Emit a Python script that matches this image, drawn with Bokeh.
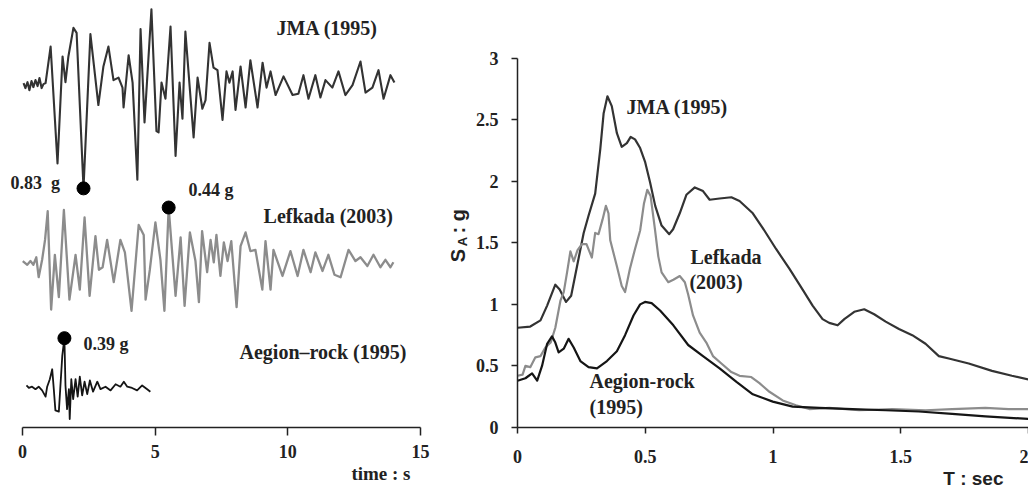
import math
from bokeh.plotting import figure
from bokeh.layouts import row
from bokeh.models import Label, Range1d, FixedTicker, Title
from bokeh.embed import file_html
from bokeh.resources import INLINE

# ---------------- data: accelerograms (time s, acceleration g) ----------------
jma_t = [0.04, 0.11, 0.19, 0.26, 0.34, 0.41, 0.49, 0.57, 0.64, 0.72, 0.79, 0.87, 1.06, 1.32, 1.51,
         1.62, 1.73, 1.92, 2.04, 2.30, 2.56, 2.86, 3.05, 3.24, 3.43, 3.62, 3.77, 3.81, 4.00, 4.15,
         4.33, 4.45, 4.60, 4.86, 5.05, 5.13, 5.24, 5.39, 5.58, 5.77, 5.92, 6.03, 6.14, 6.45, 6.60,
         6.78, 6.90, 7.05, 7.20, 7.35, 7.54, 7.69, 7.80, 7.92, 8.03, 8.22, 8.41, 8.59, 8.86, 9.05,
         9.20, 9.35, 9.54, 9.84, 10.18, 10.40, 10.59, 10.78, 11.04, 11.23, 11.42, 11.68, 11.91,
         12.17, 12.44, 12.74, 12.93, 13.19, 13.42, 13.61, 13.87, 14.02]
jma_a = [0.016, -0.024, 0.024, -0.041, 0.033, -0.016, 0.041, -0.008, 0.057, -0.024, 0.008, 0.016,
         0.31, -0.63, 0.23, 0.024, 0.23, 0.46, 0.42, -0.83, 0.41, -0.16, 0.15, 0.31, 0.04, 0.06,
         -0.02, -0.18, 0.24, 0.02, -0.76, 0.45, -0.30, 0.61, -0.37, -0.38, 0.02, -0.11, 0.47, -0.57,
         0.02, -0.27, 0.43, -0.42, 0.06, -0.19, -0.12, 0.34, 0.14, 0.12, -0.28, 0.11, 0.02, 0.11,
         -0.20, 0.15, -0.18, 0.20, -0.18, 0.18, -0.02, 0.11, -0.08, 0.07, -0.08, -0.07, 0.08, -0.11,
         0.08, -0.10, 0.04, -0.02, 0.11, -0.08, 0.00, 0.19, -0.06, -0.02, 0.12, -0.11, 0.08, 0.02]

lef_t = [0.01, 0.18, 0.30, 0.41, 0.52, 0.61, 0.74, 0.85, 0.95, 1.08, 1.22, 1.37, 1.56, 1.77, 2.00,
         2.16, 2.34, 2.53, 2.75, 2.88, 3.02, 3.19, 3.44, 3.69, 3.86, 4.11, 4.38, 4.57, 4.64, 4.80,
         5.01, 5.20, 5.35, 5.51, 5.77, 5.96, 6.11, 6.31, 6.52, 6.65, 6.77, 6.96, 7.09, 7.21, 7.31,
         7.46, 7.59, 7.73, 7.87, 8.07, 8.22, 8.41, 8.59, 8.78, 9.04, 9.16, 9.35, 9.46, 9.80, 10.10,
         10.37, 10.59, 10.86, 11.04, 11.31, 11.53, 11.76, 11.99, 12.29, 12.55, 12.74, 13.00, 13.23,
         13.49, 13.68, 13.87, 13.98]
lef_a = [0.01, -0.02, 0.01, -0.02, 0.04, -0.12, 0.02, 0.18, 0.41, -0.38, 0.06, -0.28, 0.42, -0.30,
         0.06, -0.22, 0.36, -0.27, 0.21, -0.06, -0.04, 0.18, -0.16, 0.18, 0.08, -0.39, 0.30, 0.22,
         -0.30, -0.06, 0.32, 0.02, -0.39, 0.44, -0.27, 0.20, -0.35, 0.24, 0.01, -0.32, 0.25, -0.08,
         0.18, 0.00, 0.22, -0.11, 0.16, 0.01, 0.17, -0.36, 0.13, 0.24, 0.09, 0.10, -0.22, 0.17, -0.22,
         0.10, -0.11, 0.09, -0.11, 0.10, -0.08, 0.08, -0.07, 0.06, -0.10, -0.12, 0.10, 0.01, 0.04,
         -0.03, 0.06, -0.04, 0.02, -0.04, 0.00]

aeg_t = [0.15, 0.24, 0.36, 0.49, 0.61, 0.74, 0.87, 0.93, 1.03, 1.12, 1.18, 1.24, 1.37, 1.50, 1.58,
         1.62, 1.68, 1.75, 1.78, 1.84, 1.91, 2.00, 2.08, 2.16, 2.25, 2.34, 2.44, 2.54, 2.66, 2.82,
         2.94, 3.13, 3.32, 3.51, 3.69, 3.82, 3.95, 4.13, 4.32, 4.51, 4.70, 4.82]
aeg_a = [0.01, -0.01, 0.00, -0.02, 0.00, -0.03, -0.08, 0.00, 0.06, 0.14, -0.02, -0.19, -0.20, 0.25,
         0.39, 0.01, -0.18, -0.02, -0.26, 0.06, -0.10, 0.06, -0.08, 0.08, -0.07, 0.04, -0.06, 0.05,
         -0.04, 0.04, -0.02, 0.00, -0.03, 0.02, 0.00, 0.04, 0.00, -0.01, -0.03, 0.01, -0.02, -0.04]

pga_names = ["JMA (1995)", "Lefkada (2003)", "Aegion\u2013rock (1995)"]
pga_time = [2.30, 5.51, 1.58]
pga_value = [-0.83, 0.44, 0.39]
time_ticks = [0, 5, 10, 15]

# ---------------- data: elastic spectra (T sec, SA g) ----------------
sp_jma_T = [0, 0.05, 0.09, 0.116, 0.148, 0.165, 0.19, 0.21, 0.233, 0.259, 0.278, 0.304, 0.324, 0.337,
            0.352, 0.369, 0.389, 0.408, 0.428, 0.443, 0.46, 0.48, 0.499, 0.519, 0.539, 0.564, 0.594,
            0.609, 0.635, 0.661, 0.694, 0.726, 0.752, 0.791, 0.837, 0.869, 0.921, 0.96, 1.012, 1.064,
            1.116, 1.155, 1.194, 1.22, 1.253, 1.279, 1.318, 1.357, 1.396, 1.441, 1.493, 1.545, 1.597,
            1.649, 1.688, 1.766, 1.857, 1.935, 2.0]
sp_jma_S = [0.81, 0.82, 0.87, 0.99, 1.16, 1.12, 1.02, 1.07, 1.31, 1.58, 1.72, 1.90, 2.26, 2.55, 2.69,
            2.61, 2.39, 2.28, 2.31, 2.36, 2.34, 2.27, 2.16, 1.99, 1.80, 1.64, 1.57, 1.61, 1.74, 1.89,
            1.95, 1.92, 1.85, 1.86, 1.87, 1.84, 1.74, 1.62, 1.45, 1.29, 1.12, 0.99, 0.88, 0.85, 0.83,
            0.88, 0.94, 0.96, 0.92, 0.86, 0.80, 0.75, 0.68, 0.58, 0.56, 0.52, 0.46, 0.42, 0.39]

sp_lef_T = [0, 0.02, 0.031, 0.05, 0.07, 0.09, 0.109, 0.13, 0.148, 0.168, 0.181, 0.194, 0.207, 0.22,
            0.235, 0.252, 0.27, 0.291, 0.304, 0.317, 0.333, 0.346, 0.356, 0.363, 0.389, 0.408, 0.421,
            0.44, 0.46, 0.48, 0.495, 0.508, 0.521, 0.538, 0.551, 0.564, 0.59, 0.61, 0.635, 0.655,
            0.668, 0.687, 0.713, 0.739, 0.765, 0.798, 0.837, 0.869, 0.915, 0.947, 0.986, 1.038, 1.09,
            1.142, 1.22, 1.337, 1.467, 1.597, 1.701, 1.831, 1.922, 2.0]
sp_lef_S = [0.42, 0.43, 0.50, 0.49, 0.57, 0.58, 0.65, 0.69, 0.81, 1.03, 1.10, 1.26, 1.43, 1.35, 1.44,
            1.49, 1.49, 1.38, 1.58, 1.57, 1.69, 1.80, 1.74, 1.52, 1.31, 1.15, 1.10, 1.29, 1.45, 1.60,
            1.82, 1.93, 1.88, 1.61, 1.39, 1.26, 1.18, 1.20, 1.23, 1.18, 1.08, 0.91, 0.77, 0.69, 0.58,
            0.52, 0.45, 0.42, 0.41, 0.36, 0.29, 0.22, 0.18, 0.15, 0.16, 0.14, 0.15, 0.14, 0.15, 0.16,
            0.15, 0.15]

sp_aeg_T = [0, 0.031, 0.057, 0.077, 0.096, 0.116, 0.135, 0.148, 0.161, 0.181, 0.2, 0.22, 0.246, 0.278,
            0.311, 0.35, 0.389, 0.421, 0.454, 0.48, 0.499, 0.525, 0.558, 0.61, 0.668, 0.726, 0.791,
            0.857, 0.921, 0.999, 1.077, 1.181, 1.311, 1.441, 1.571, 1.701, 1.831, 2.0]
sp_aeg_S = [0.38, 0.40, 0.44, 0.38, 0.50, 0.68, 0.74, 0.69, 0.61, 0.64, 0.72, 0.65, 0.54, 0.49, 0.48,
            0.54, 0.62, 0.75, 0.91, 1.00, 1.02, 1.01, 0.95, 0.83, 0.67, 0.58, 0.48, 0.37, 0.27, 0.21,
            0.17, 0.16, 0.15, 0.14, 0.13, 0.11, 0.09, 0.07]

period_ticks = [0, 0.5, 1, 1.5, 2]
sa_ticks = [0, 0.5, 1, 1.5, 2, 2.5, 3]

# ---------------- styling constants ----------------
SERIF = "Liberation Serif"
SANS = "Liberation Sans"
INK = "#222222"
DARK = "#333333"
GREY = "#8c8c8c"
BLACK = "#151515"
trace_offsets = [2.752, 1.328, 0.328]   # vertical baselines of the three records (layout only)


def style_axis(a, ticks, tick_in, tick_out, standoff):
    a.ticker = FixedTicker(ticks=ticks)
    a.axis_line_color = INK
    a.axis_line_width = 1.5
    a.major_tick_line_color = INK
    a.major_tick_line_width = 1.5
    a.major_tick_in = tick_in
    a.major_tick_out = tick_out
    a.minor_tick_line_color = None
    a.major_label_text_font = SERIF
    a.major_label_text_font_style = "bold"
    a.major_label_text_font_size = "18px"
    a.major_label_text_color = INK
    a.major_label_standoff = standoff


def lab(fig, x, y, text, font=SERIF, size="20px", align="left", baseline="middle", angle=0.0):
    fig.add_layout(Label(x=x, y=y, text=text, text_font=font, text_font_style="bold",
                         text_font_size=size, text_align=align, text_baseline=baseline,
                         text_color=INK, angle=angle))


# ---------------- left panel: accelerograms ----------------
left = figure(width=470, height=488, output_backend="svg", toolbar_location=None,
              x_range=Range1d(-0.829, 16.887), y_range=Range1d(0, 3.432),
              y_axis_location=None, min_border_left=0, min_border_right=0,
              min_border_top=0, min_border_bottom=59)
left.outline_line_color = None
left.grid.visible = False

left.line(jma_t, [a + trace_offsets[0] for a in jma_a], line_color=DARK, line_width=2.1, line_join="round")
left.line(lef_t, [a + trace_offsets[1] for a in lef_a], line_color=GREY, line_width=2.3, line_join="round")
left.line(aeg_t, [a + trace_offsets[2] for a in aeg_a], line_color=BLACK, line_width=1.8, line_join="round")
left.scatter(pga_time, [v + o for v, o in zip(pga_value, trace_offsets)], size=13, color="black")

style_axis(left.xaxis[0], time_ticks, 0, 8, 9)
left.xaxis[0].bounds = (0, 15)

lab(left, 9.574, 3.208, pga_names[0])
lab(left, 9.086, 1.696, pga_names[1])
lab(left, 8.18, 0.608, pga_names[2])
lab(left, -0.452, 1.968, "%.2f\u00a0 g" % abs(pga_value[0]), size="18px")
lab(left, 6.26, 1.912, "%.2f g" % abs(pga_value[1]), size="18px")
lab(left, 2.30, 0.672, "%.2f g" % abs(pga_value[2]), size="18px")
# rotated y label of the right panel:  S_A : g
lab(left, 16.434, 1.328, "S", font=SANS, size="20px", baseline="alphabetic", angle=math.pi / 2)
lab(left, 16.585, 1.456, "A", font=SANS, size="13px", baseline="alphabetic", angle=math.pi / 2)
lab(left, 16.434, 1.560, ": g", font=SANS, size="20px", baseline="alphabetic", angle=math.pi / 2)

left.add_layout(Title(text="time : s", align="right", offset=60, standoff=0,
                      text_font=SERIF, text_font_style="bold", text_font_size="19px",
                      text_color=INK), "below")

# ---------------- right panel: spectra ----------------
right = figure(width=558, height=488, output_backend="svg", toolbar_location=None,
               x_range=Range1d(0, 2.0), y_range=Range1d(0, 3.468),
               min_border_left=47, min_border_right=0, min_border_top=0, min_border_bottom=59)
right.outline_line_color = None
right.grid.visible = False

right.line(sp_jma_T, sp_jma_S, line_color=DARK, line_width=2.2, line_join="round")
right.line(sp_lef_T, sp_lef_S, line_color=GREY, line_width=2.2, line_join="round")
right.line(sp_aeg_T, sp_aeg_S, line_color=BLACK, line_width=2.2, line_join="round")

style_axis(right.xaxis[0], period_ticks, 0, 6, 16)
style_axis(right.yaxis[0], sa_ticks, 0, 6, 13)
right.yaxis[0].bounds = (0, 3)
right.yaxis[0].major_label_overrides = {0: "0", 1: "1", 2: "2", 3: "3"}
right.xaxis[0].major_label_overrides = {0: "0", 1: "1", 2: "2"}

lab(right, 0.427, 2.603, "JMA (1995)")
lab(right, 0.677, 1.382, "Lefkada")
lab(right, 0.673, 1.180, "(2003)")
lab(right, 0.282, 0.380, "Aegion-rock")
lab(right, 0.282, 0.170, "(1995)")

right.add_layout(Title(text="T : sec", align="right", offset=25, standoff=0,
                       text_font=SANS, text_font_style="bold", text_font_size="19px",
                       text_color=INK), "below")

layout = row(left, right, spacing=0)
open("out.html", "w").write(file_html(layout, INLINE))
